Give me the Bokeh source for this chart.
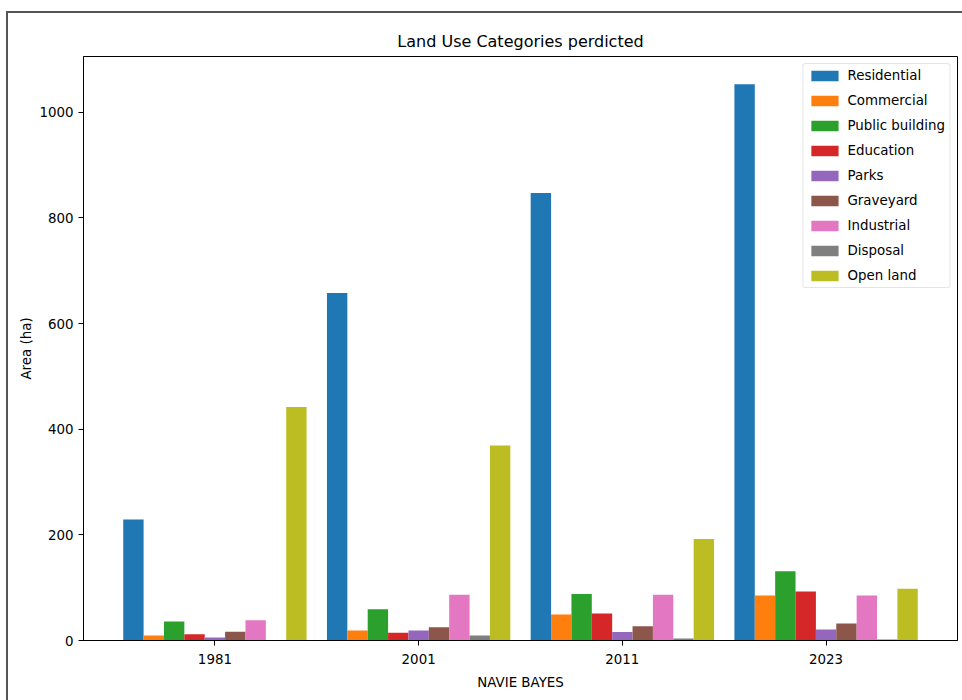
from bokeh.plotting import figure
from bokeh.layouts import column, row
from bokeh.models import Range1d, FactorRange, ColumnDataSource, Spacer
from bokeh.transform import dodge
from bokeh.embed import file_html
from bokeh.resources import INLINE

# ---- data ----
years = ["1981", "2001", "2011", "2023"]
categories = ["Residential", "Commercial", "Public building", "Education", "Parks",
              "Graveyard", "Industrial", "Disposal", "Open land"]
residential = [229, 658, 847, 1053]
commercial = [9.5, 19, 49, 85]
public_building = [36, 59, 88, 131]
education = [12, 14.5, 51, 93]
parks = [5.5, 19, 16, 21]
graveyard = [16.5, 25, 27, 32]
industrial = [38.5, 86.5, 86.5, 85]
disposal = [0, 9.5, 4, 2]
open_land = [442, 369, 192, 98]
colors = ["#1f77b4", "#ff7f0e", "#2ca02c", "#d62728", "#9467bd",
          "#8c564b", "#e377c2", "#7f7f7f", "#bcbd22"]

series = [residential, commercial, public_building, education, parks,
          graveyard, industrial, disposal, open_land]
keys = ["c%d" % i for i in range(len(categories))]
data = {"year": years}
for k, s in zip(keys, series):
    data[k] = s
source = ColumnDataSource(data)

ymax = max(max(s) for s in series)
FONT = "DejaVu Sans"
FS = "13.4px"

p = figure(
    x_range=FactorRange(factors=years, range_padding=0.145, range_padding_units="absolute"),
    y_range=Range1d(0, ymax * 1.05),
    width=954, height=687,
    output_backend="svg", toolbar_location=None,
    min_border_left=75, min_border_right=5, min_border_top=43, min_border_bottom=60,
    styles={"outline": "2px solid #555555"},
    title="Land Use Categories perdicted",
)

n = len(categories)
bar_w = 0.1
for i, (k, name, c) in enumerate(zip(keys, categories, colors)):
    off = (i - (n - 1) / 2) * bar_w
    p.vbar(x=dodge("year", off, range=p.x_range), top=k, width=bar_w, bottom=0,
           source=source, fill_color=c, line_color=None, legend_label=name)

# title
p.title.align = "center"
p.title.text_font = FONT
p.title.text_font_size = "16px"
p.title.text_font_style = "normal"
p.title.text_color = "#000000"
p.title.standoff = 12

# frame
p.outline_line_color = "#000000"
p.outline_line_width = 1
p.outline_line_alpha = 1
p.xgrid.visible = False
p.ygrid.visible = False
p.background_fill_color = "white"
p.border_fill_color = "white"

# axes
for ax in (p.xaxis[0], p.yaxis[0]):
    ax.axis_line_color = "#000000"
    ax.major_tick_line_color = "#000000"
    ax.major_tick_out = 5
    ax.major_tick_in = 0
    ax.minor_tick_line_color = None
    ax.major_label_text_font = FONT
    ax.major_label_text_font_size = FS
    ax.major_label_text_color = "#000000"
    ax.major_label_standoff = 5
    ax.axis_label_text_font = FONT
    ax.axis_label_text_font_size = FS
    ax.axis_label_text_font_style = "normal"
    ax.axis_label_text_color = "#000000"

p.yaxis.ticker = [0, 200, 400, 600, 800, 1000]
p.xaxis.axis_label = "NAVIE BAYES"
p.yaxis.axis_label = "Area (ha)"
p.xaxis.major_label_standoff = 8
p.xaxis.axis_label_standoff = 8
p.yaxis.axis_label_standoff = 2

# legend
lg = p.legend[0]
lg.location = "top_right"
lg.margin = 7
lg.padding = 4
lg.spacing = 10
lg.glyph_width = 34
lg.glyph_height = 13
lg.label_height = 13
lg.label_standoff = 6
lg.label_text_font = FONT
lg.label_text_font_size = FS
lg.label_text_color = "#000000"
lg.border_line_color = "#cccccc"
lg.border_line_width = 1
lg.border_radius = 3
lg.background_fill_alpha = 0.8

layout = column(
    Spacer(width=962, height=13),
    row(Spacer(width=8, height=687), p, spacing=0),
    spacing=0,
)

open("out.html", "w").write(file_html(layout, INLINE))
